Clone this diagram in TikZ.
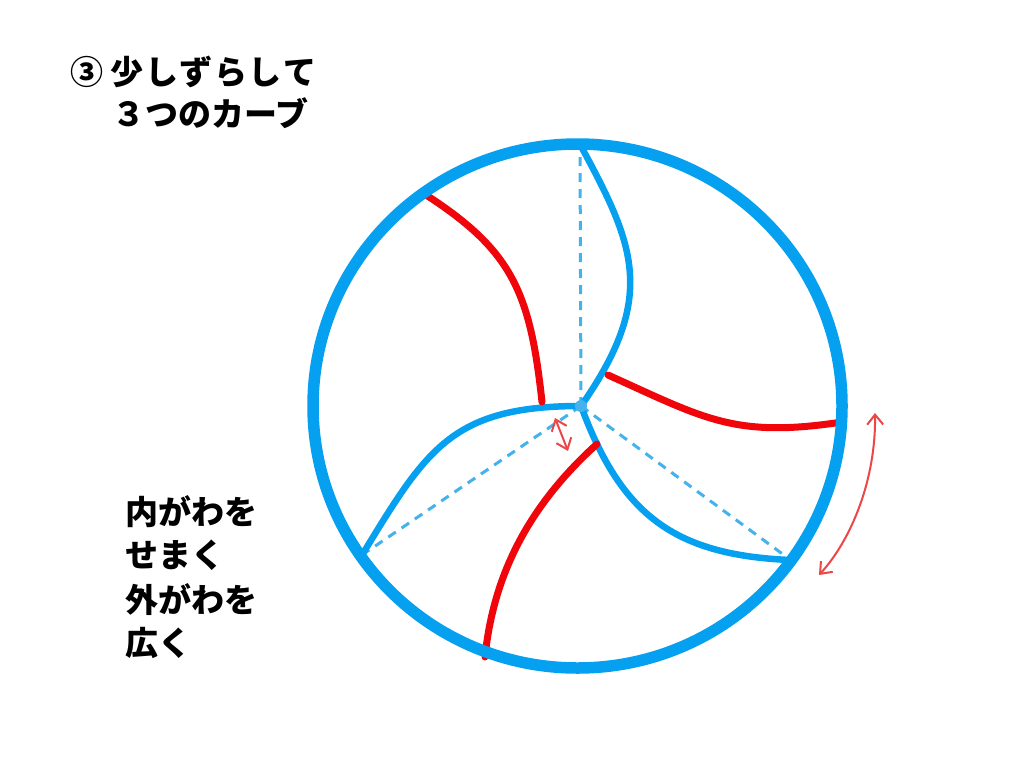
\documentclass[tikz,border=0pt]{standalone}
\usepackage{fontspec}
\newfontfamily\jp{Noto Sans CJK JP}
\usetikzlibrary{arrows.meta}
\definecolor{ringblue}{RGB}{5,160,240}
\definecolor{dashblue}{RGB}{70,178,235}
\definecolor{curvered}{RGB}{240,5,10}
\definecolor{pencilred}{RGB}{236,70,70}
\tikzset{
  ring/.style={draw=ringblue,line width=11.5pt},
  bluecurve/.style={draw=ringblue,line width=6.5pt,line cap=round},
  redcurve/.style={draw=curvered,line width=7pt,line cap=round},
  guide/.style={draw=dashblue,line width=3pt,dash pattern=on 9pt off 7pt},
  pencilarrow/.style={draw=pencilred,line width=2pt,line cap=round,
    {Straight Barb[length=10pt,width=16pt,line width=2pt]}-{Straight Barb[length=10pt,width=16pt,line width=2pt]}},
  jptext/.style={anchor=west,inner sep=0pt,font=\jp\bfseries\fontsize{33}{40}\selectfont,
    text height=0.88em,text depth=0.12em}
}
\begin{document}
\begin{tikzpicture}[x=1pt,y=-1pt]
\useasboundingbox[fill=white] (0,0) rectangle (1024,768);
% key points
\coordinate (C) at (577.5,406);
\coordinate (hub) at (581,406);
\coordinate (ptop) at (580,147);
\coordinate (pleft) at (362,555);
\coordinate (pright) at (788,558);
% dashed guides
\draw[guide] (hub) -- (ptop);
\draw[guide] (hub) -- (pleft);
\draw[guide] (hub) -- (pright);
% blue curves
\coordinate (bA0) at (582,148);
\coordinate (bB1) at (362,555);
\coordinate (bC1) at (790,560);
\draw[bluecurve] (bA0) .. controls (634.8,245.9) and (657.2,297.3) .. (hub);
\draw[bluecurve] (hub) .. controls (450.8,406) and (426.5,449.7) .. (bB1);
\draw[bluecurve] (hub) .. controls (621.2,514.8) and (673.8,554.9) .. (bC1);
\fill[dashblue] (hub) circle[radius=6];
% red curves
\coordinate (rA0) at (423,193);
\coordinate (rA1) at (542,402);
\coordinate (rB0) at (608,375);
\coordinate (rB1) at (842,422);
\coordinate (rC0) at (597,444);
\coordinate (rC1) at (485,657);
\draw[redcurve] (rA0) .. controls (512,250) and (530,291) .. (rA1);
\draw[redcurve] (rB0) .. controls (704.7,418.6) and (734.7,438.4) .. (rB1);
\draw[redcurve] (rC0) .. controls (532.3,502.6) and (493.7,570.4) .. (rC1);
% ring
\draw[ring] (C) ellipse[x radius=264.5,y radius=262];
% pencil arrows
\coordinate (sa1) at (555,418);
\coordinate (sa2) at (568,451);
\draw[pencilarrow] (sa1) -- (sa2);
\coordinate (ba1) at (875,413);
\coordinate (ba2) at (819,575);
\draw[pencilarrow] (ba1) .. controls (876,480) and (851,540) .. (ba2);
% texts
\node[jptext] (t1) at (70,81) {③ 少\kern1.5pt し\kern1.5pt ず\kern1.5pt ら\kern1.5pt し\kern1.5pt て};
\node[jptext] (t2) at (112,123) {３つのカーブ};
\node[jptext] (l1) at (125,521) {内がわを};
\node[jptext] (l2) at (125,564) {せまく};
\node[jptext] (l3) at (125,609) {外がわを};
\node[jptext] (l4) at (125,652) {広く};
\end{tikzpicture}
\end{document}
